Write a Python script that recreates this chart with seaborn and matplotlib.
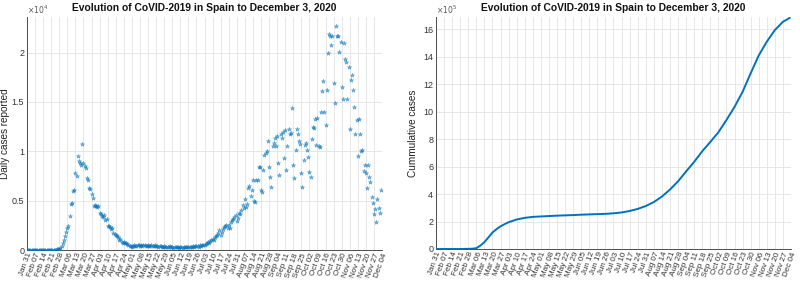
import numpy as np
import pandas as pd
import matplotlib
matplotlib.use("Agg")
import matplotlib.pyplot as plt
import matplotlib.dates as mdates
from matplotlib.ticker import FuncFormatter, FixedLocator
import seaborn as sns

# ---------------- data ----------------
start_date = "2020-01-31"
end_date = "2020-12-03"

# daily reported cases, one row per week starting Jan 31
daily_cases = [
    1, 0, 0, 0, 0, 0, 0,
    0, 0, 1, 0, 0, 0, 0,
    0, 0, 0, 0, 0, 0, 0,
    10, 15, 20, 30, 40, 60, 90,
    150, 250, 400, 700, 1000, 1400, 1800,
    2200, 2400, 3400, 4700, 4800, 6000, 6100,
    7800, 7500, 9500, 9000, 8800, 8600, 10700,
    8800, 8500, 8300, 7300, 7100, 6300, 6200,
    5700, 5300, 4500, 4600, 4500, 4400, 4500,
    3700, 3600, 3400, 3300, 3500, 3000, 3100,
    2400, 2400, 2300, 2100, 2200, 1700, 1600,
    1500, 1400, 1300, 1000, 1100, 800, 700,
    800, 700, 700, 600, 500, 400, 400,
    300, 400, 500, 400, 400, 500, 500,
    400, 500, 400, 500, 500, 400, 400,
    500, 400, 400, 500, 400, 400, 500,
    400, 400, 300, 400, 400, 300, 300,
    400, 300, 300, 300, 300, 400, 300,
    300, 200, 300, 300, 300, 300, 200,
    300, 300, 200, 300, 300, 300, 300,
    300, 300, 300, 300, 400, 300, 400,
    400, 400, 300, 500, 400, 500, 500,
    500, 600, 700, 800, 700, 900, 1000,
    1100, 1000, 1300, 1400, 1500, 1700, 2000,
    1500, 1800, 2100, 2300, 2400, 2500, 2200,
    2500, 2200, 2800, 3000, 3100, 3300, 3500,
    2900, 3200, 3700, 3600, 4100, 4600, 4300,
    5200, 4400, 4700, 6300, 6500, 5500, 6100,
    7100, 5000, 4900, 7100, 7100, 8400, 8400,
    6100, 5900, 8100, 9600, 9800, 10000, 11000,
    8400, 7400, 6400, 10500, 10800, 11300, 10500,
    11500, 8800, 7600, 11700, 11300, 12000, 9300,
    12200, 8100, 10500, 12300, 11800, 11900, 14400,
    8600, 7300, 10100, 12300, 11800, 11000, 10700,
    7800, 6400, 9100, 10600, 10800, 10100, 9400,
    7900, 7400, 11200, 12500, 12400, 13300, 10600,
    13400, 10500, 10400, 14000, 16100, 17100, 14000,
    12700, 16200, 20000, 21900, 21700, 20800, 21700,
    16900, 14900, 22700, 21700, 21700, 20100, 21100,
    16500, 15300, 21000, 19300, 19000, 15300, 18500,
    12300, 17200, 17700, 16200, 14500, 11700, 13200,
    9500, 13300, 11800, 10000, 10100, 8000, 8600,
    7800, 6300, 8600, 7400, 6900, 5400, 4800,
    3600, 4200, 2800, 5200, 4300, 3700, 6100,
]

# cumulative cases read at these dates
cum_dates = [
    "2020-01-31", "2020-02-07", "2020-02-14", "2020-02-21", "2020-02-28",
    "2020-03-03", "2020-03-06", "2020-03-10", "2020-03-13", "2020-03-16",
    "2020-03-20", "2020-03-24", "2020-03-27", "2020-03-31", "2020-04-03",
    "2020-04-10", "2020-04-17", "2020-04-24", "2020-05-01", "2020-05-08",
    "2020-05-15", "2020-05-22", "2020-05-29", "2020-06-05", "2020-06-12",
    "2020-06-19", "2020-06-26", "2020-07-03", "2020-07-10", "2020-07-17",
    "2020-07-24", "2020-07-31", "2020-08-07", "2020-08-14", "2020-08-21",
    "2020-08-28", "2020-09-04", "2020-09-11", "2020-09-18", "2020-09-25",
    "2020-10-02", "2020-10-09", "2020-10-16", "2020-10-23", "2020-10-30",
    "2020-11-06", "2020-11-13", "2020-11-20", "2020-11-27", "2020-12-03",
]
cum_cases = [
    0, 0, 0, 0, 1000,
    2500, 6000, 28000, 50000, 80000,
    120000, 148000, 165000, 183000, 195000,
    215000, 227000, 234000, 237000, 240000,
    243000, 245000, 247000, 250000, 252000,
    254000, 256000, 260000, 266000, 277000,
    292000, 313000, 342000, 382000, 433000,
    493000, 565000, 635000, 712000, 780000,
    850000, 940000, 1035000, 1145000, 1280000,
    1410000, 1510000, 1595000, 1655000, 1684000,
]

tick_dates = pd.date_range("2020-01-31", "2020-12-04", freq="7D")

title_text = "Evolution of CoVID-2019 in Spain to December 3, 2020"
ylabel_left = "Daily cases reported"
ylabel_right = "Cummulative cases"
yticks_left = [0, 5000, 10000, 15000, 20000]
yticks_right = [0, 200000, 400000, 600000, 800000, 1000000, 1200000, 1400000, 1600000]

# ---------------- style ----------------
sns.set_theme(style="whitegrid")
plt.rcParams["font.family"] = ["Liberation Sans", "DejaVu Sans"]

blue = "#0072BD"
grid_c = "#e3e3e3"
axis_c = "#4d4d4d"

df_daily = pd.DataFrame({
    "date": pd.date_range(start_date, end_date, freq="D"),
    "cases": daily_cases,
})
df_cum = pd.DataFrame({"date": pd.to_datetime(cum_dates), "cases": cum_cases})

fig = plt.figure(figsize=(8.0, 2.81), dpi=100)
ax1 = fig.add_axes([27 / 800, 1 - 250 / 281, 355 / 800, 233 / 281])
ax2 = fig.add_axes([436 / 800, 1 - 249 / 281, 355 / 800, 232 / 281])

sns.scatterplot(data=df_daily, x="date", y="cases", ax=ax1, marker="*",
                s=10, color=blue, edgecolor=blue, linewidth=0.4, alpha=0.55,
                legend=False, zorder=3)
sns.lineplot(data=df_cum, x="date", y="cases", ax=ax2, color=blue,
             linewidth=1.4, legend=False, zorder=3)

def style(ax, yticks, ymax, scale, expo, ylabel, lpad):
    ax.set_facecolor("white")
    ax.set_xlim(pd.Timestamp("2020-01-31"), pd.Timestamp("2020-12-04"))
    ax.set_ylim(0, ymax)
    ax.xaxis.set_major_locator(FixedLocator(mdates.date2num(tick_dates)))
    ax.xaxis.set_major_formatter(mdates.DateFormatter("%b %d"))
    ax.yaxis.set_major_locator(FixedLocator(yticks))
    ax.yaxis.set_major_formatter(FuncFormatter(lambda v, p: f"{v/scale:g}"))
    ax.grid(True, color=grid_c, linewidth=0.6)
    for s in ["top", "right"]:
        ax.spines[s].set_visible(False)
    for s in ["left", "bottom"]:
        ax.spines[s].set_color(axis_c)
        ax.spines[s].set_linewidth(0.7)
    ax.tick_params(axis="x", direction="in", length=2.5, width=0.6,
                   colors=axis_c, labelsize=5.8, labelrotation=70, pad=1.5)
    ax.tick_params(axis="y", direction="in", length=2.5, width=0.6,
                   colors=axis_c, labelsize=6.5, pad=2)
    for lab in ax.get_xticklabels():
        lab.set_ha("right")
        lab.set_rotation_mode("anchor")
        lab.set_color("#333333")
    for lab in ax.get_yticklabels():
        lab.set_color("#333333")
    ax.set_xlabel("")
    ax.set_ylabel(ylabel, fontsize=7.2, color="#222222", labelpad=lpad)
    ax.set_title(title_text, fontsize=7.4, fontweight="bold", color="#111111", pad=4)
    ax.text(0.0, 1.005, r"$\times10^{%d}$" % expo, transform=ax.transAxes,
            fontsize=5.5, color="#555555", ha="left", va="bottom")

style(ax1, yticks_left, 23600, 10000, 4, ylabel_left, 1.5)
style(ax2, yticks_right, 1690000, 100000, 5, ylabel_right, 4)

fig.savefig("out.png", dpi=100, facecolor="white")
